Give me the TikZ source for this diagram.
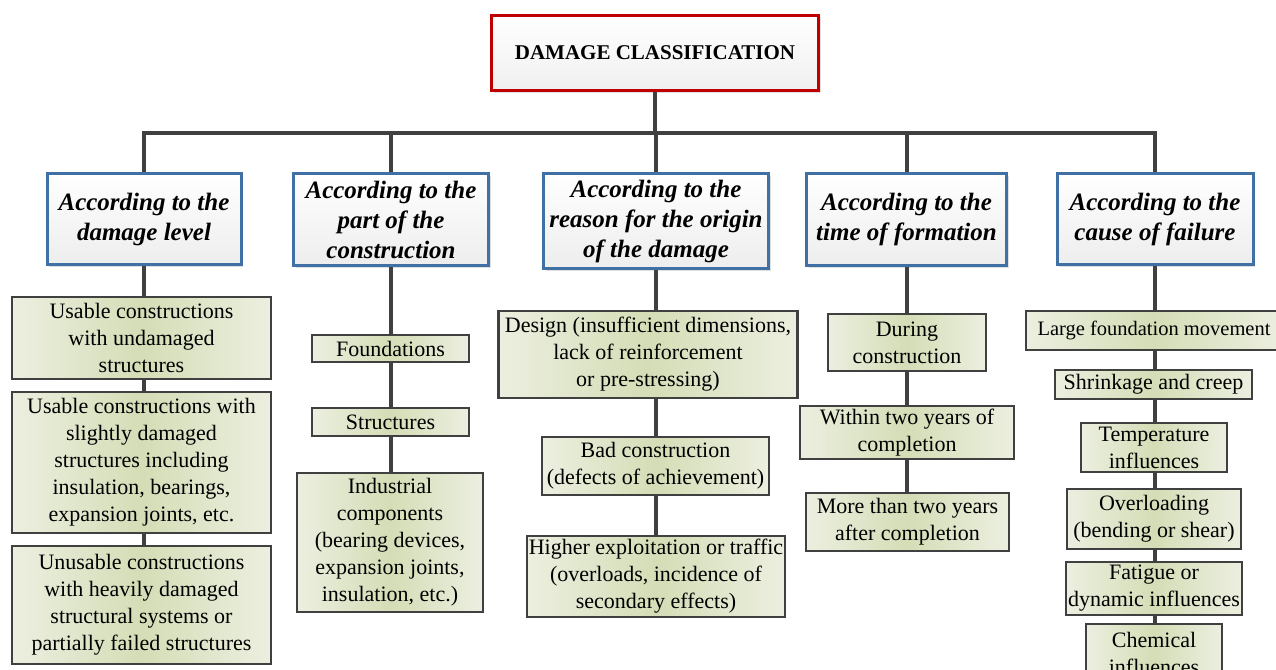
\documentclass[tikz,border=0pt]{standalone}
\usepackage{fontspec}
\setmainfont{Liberation Serif}
\usetikzlibrary{shadows}

\definecolor{linkgray}{RGB}{64,64,64}
\definecolor{titlered}{RGB}{192,0,0}
\definecolor{catblue}{RGB}{65,113,164}
\definecolor{leafedge}{RGB}{236,239,224}
\definecolor{leafmid}{RGB}{212,221,182}

\begin{document}
\begin{tikzpicture}[x=1pt, y=-1pt,
	link/.style={line width=4pt, linkgray},
	titlebox/.style={draw=titlered, line width=3pt, top color=white, bottom color=gray!12,
		drop shadow={opacity=0.25, shadow xshift=2pt, shadow yshift=-2pt},
		font=\fontsize{21}{25}\selectfont\bfseries},
	catbox/.style={draw=catblue, line width=3pt, top color=white, bottom color=gray!14,
		drop shadow={opacity=0.25, shadow xshift=2pt, shadow yshift=-2pt},
		align=center, inner sep=2pt, font=\fontsize{25}{30}\selectfont\bfseries\itshape},
	leafbox/.style={draw=linkgray, line width=2.5pt, left color=leafedge, right color=leafedge,
		middle color=leafmid, align=center, inner sep=2pt, font=\fontsize{22}{27}\selectfont}]

	\useasboundingbox (0,0) rectangle (1276,669);

	% Title box in red
	\node[titlebox, minimum width=327, minimum height=75] (title) at (655,53) {DAMAGE CLASSIFICATION};

	% Categories in blue
	\node[catbox, minimum width=194, minimum height=91] (c1) at (144,219) {According to the\\damage level};
	\node[catbox, minimum width=195, minimum height=92] (c2) at (391,219.5) {According to the\\part of the\\construction};
	\node[catbox, minimum width=225, minimum height=95] (c3) at (656,221) {According to the\\reason for the origin\\of the damage};
	\node[catbox, minimum width=200, minimum height=92] (c4) at (906.5,219.5) {According to the\\time of formation};
	\node[catbox, minimum width=196, minimum height=91] (c5) at (1155,219) {According to the\\cause of failure};

	% Damage level
	\node[leafbox, minimum width=259, minimum height=82] (l11) at (141.5,338) {Usable constructions\\with undamaged\\structures};
	\node[leafbox, minimum width=259, minimum height=141] (l12) at (141.5,462.5) {Usable constructions with\\slightly damaged\\structures including\\insulation, bearings,\\expansion joints, etc.};
	\node[leafbox, minimum width=259, minimum height=118] (l13) at (141.5,605) {Unusable constructions\\with heavily damaged\\structural systems or\\partially failed structures};

	% Part of the construction
	\node[leafbox, minimum width=157, minimum height=27] (l21) at (390.5,348.5) {Foundations};
	\node[leafbox, minimum width=157, minimum height=28] (l22) at (390.5,422) {Structures};
	\node[leafbox, minimum width=186, minimum height=139] (l23) at (390,542.5) {Industrial\\components\\(bearing devices,\\expansion joints,\\insulation, etc.)};

	% Reason for the origin
	\node[leafbox, minimum width=299, minimum height=87] (l31) at (648,354.5) {Design (insufficient dimensions,\\lack of reinforcement\\or pre-stressing)};
	\node[leafbox, minimum width=227, minimum height=58] (l32) at (655.5,466) {Bad construction\\(defects of achievement)};
	\node[leafbox, minimum width=254, minimum height=81] (l33) at (656,576.5) {Higher exploitation or traffic\\(overloads, incidence of\\secondary effects)};

	% Time of formation
	\node[leafbox, minimum width=158, minimum height=57] (l41) at (907,342.5) {During\\construction};
	\node[leafbox, minimum width=214, minimum height=53] (l42) at (907,432.5) {Within two years of\\completion};
	\node[leafbox, minimum width=203, minimum height=58] (l43) at (907.5,522) {More than two years\\after completion};

	% Cause of failure
	\node[leafbox, minimum width=256, minimum height=39, font=\fontsize{20.5}{27}\selectfont] (l51) at (1154,330.5) {Large foundation movement};
	\node[leafbox, minimum width=197, minimum height=29] (l52) at (1153.5,384.5) {Shrinkage and creep};
	\node[leafbox, minimum width=146, minimum height=49] (l53) at (1154,447.5) {Temperature\\influences};
	\node[leafbox, minimum width=174, minimum height=60] (l54) at (1154,519) {Overloading\\(bending or shear)};
	\node[leafbox, minimum width=174, minimum height=53] (l55) at (1154,588.5) {Fatigue or\\dynamic influences};
	\node[leafbox, minimum width=136, minimum height=58] (l56) at (1154,653) {Chemical\\influences};

	% Title down to the bus
	\coordinate (bus) at (655,133);
	\draw[link] (title.south) -- (bus);
	\draw[link] (c1.north) |- (bus) -| (c5.north);
	\foreach \c in {c2,c3,c4} {
		\draw[link] (\c.north) -- (\c.north |- bus);
	}

	% Columns under each category
	\foreach \a/\b/\colm in {c1/l11/c1, l11/l12/c1, l12/l13/c1,
		c2/l21/c2, l21/l22/c2, l22/l23/c2,
		c3/l31/c3, l31/l32/c3, l32/l33/c3,
		c4/l41/c4, l41/l42/c4, l42/l43/c4,
		c5/l51/c5, l51/l52/c5, l52/l53/c5, l53/l54/c5, l54/l55/c5, l55/l56/c5} {
		\draw[link] (\a.south -| \colm.south) -- (\b.north -| \colm.south);
	}

\end{tikzpicture}
\end{document}
